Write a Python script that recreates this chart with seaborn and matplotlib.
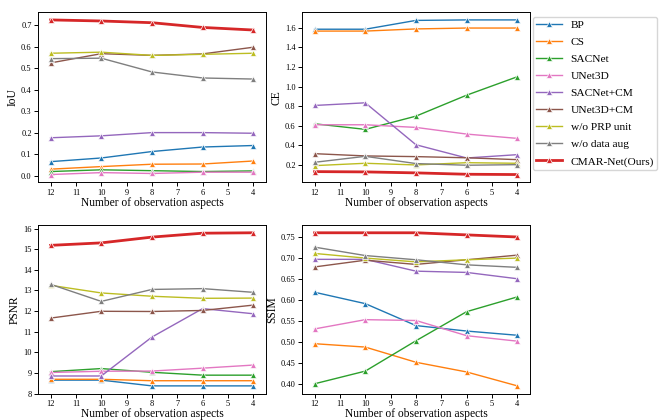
import numpy as np
import pandas as pd
import seaborn as sns
import matplotlib

matplotlib.use("Agg")
import matplotlib.pyplot as plt

plt.rcParams["font.family"] = ["Liberation Serif", "DejaVu Serif"]

ASPECTS = [12, 10, 8, 6, 4]
METHODS = [
    "BP",
    "CS",
    "SACNet",
    "UNet3D",
    "SACNet+CM",
    "UNet3D+CM",
    "w/o PRP unit",
    "w/o data aug",
    "CMAR-Net(Ours)",
]
COLORS = sns.color_palette("tab10", 10)
METHOD_COLORS = [COLORS[0], COLORS[1], COLORS[2], COLORS[6], COLORS[4],
                 COLORS[5], COLORS[8], COLORS[7], COLORS[3]]

iou = {
    "BP": [0.066, 0.083, 0.113, 0.134, 0.141],
    "CS": [0.031, 0.043, 0.054, 0.055, 0.069],
    "SACNet": [0.020, 0.028, 0.024, 0.020, 0.023],
    "UNet3D": [0.006, 0.015, 0.011, 0.017, 0.017],
    "SACNet+CM": [0.177, 0.186, 0.201, 0.201, 0.198],
    "UNet3D+CM": [0.525, 0.568, 0.560, 0.567, 0.598],
    "w/o PRP unit": [0.570, 0.575, 0.560, 0.565, 0.570],
    "w/o data aug": [0.545, 0.547, 0.483, 0.455, 0.450],
    "CMAR-Net(Ours)": [0.725, 0.720, 0.712, 0.690, 0.678],
}
ce = {
    "BP": [1.585, 1.585, 1.675, 1.68, 1.68],
    "CS": [1.566, 1.566, 1.588, 1.597, 1.597],
    "SACNet": [0.62, 0.563, 0.698, 0.912, 1.10],
    "UNet3D": [0.61, 0.61, 0.583, 0.515, 0.471],
    "SACNet+CM": [0.807, 0.834, 0.406, 0.271, 0.305],
    "UNet3D+CM": [0.315, 0.292, 0.285, 0.273, 0.254],
    "w/o PRP unit": [0.193, 0.217, 0.20, 0.223, 0.217],
    "w/o data aug": [0.227, 0.288, 0.214, 0.197, 0.203],
    "CMAR-Net(Ours)": [0.132, 0.129, 0.119, 0.105, 0.102],
}
psnr = {
    "BP": [8.65, 8.65, 8.37, 8.37, 8.37],
    "CS": [8.69, 8.69, 8.62, 8.62, 8.62],
    "SACNet": [9.06, 9.21, 9.03, 8.89, 8.89],
    "UNet3D": [9.02, 9.08, 9.09, 9.23, 9.38],
    "SACNet+CM": [8.85, 8.85, 10.74, 12.12, 11.87],
    "UNet3D+CM": [11.66, 11.99, 11.98, 12.03, 12.29],
    "w/o PRP unit": [13.25, 12.88, 12.72, 12.62, 12.63],
    "w/o data aug": [13.30, 12.47, 13.05, 13.09, 12.91],
    "CMAR-Net(Ours)": [15.19, 15.31, 15.59, 15.78, 15.80],
}
ssim = {
    "BP": [0.618, 0.591, 0.539, 0.526, 0.516],
    "CS": [0.496, 0.488, 0.452, 0.429, 0.396],
    "SACNet": [0.401, 0.431, 0.503, 0.572, 0.607],
    "UNet3D": [0.531, 0.553, 0.551, 0.515, 0.502],
    "SACNet+CM": [0.696, 0.696, 0.668, 0.665, 0.650],
    "UNet3D+CM": [0.678, 0.694, 0.684, 0.695, 0.706],
    "w/o PRP unit": [0.710, 0.699, 0.690, 0.695, 0.699],
    "w/o data aug": [0.725, 0.705, 0.695, 0.683, 0.677],
    "CMAR-Net(Ours)": [0.759, 0.759, 0.759, 0.754, 0.749],
}

PANELS = [("IoU", iou), ("CE", ce), ("PSNR", psnr), ("SSIM", ssim)]
AX_RECTS = [
    [0.057, 0.566, 0.343, 0.405],
    [0.454, 0.566, 0.343, 0.405],
    [0.057, 0.063, 0.343, 0.401],
    [0.454, 0.063, 0.343, 0.401],
]

fig = plt.figure(figsize=(6.65, 4.2), dpi=100)

for (name, table), rect in zip(PANELS, AX_RECTS):
    ax = fig.add_axes(rect)
    df = pd.DataFrame(
        [(m, a, v) for m in METHODS for a, v in zip(ASPECTS, table[m])],
        columns=["method", "aspects", "value"],
    )
    for m, c in zip(METHODS, METHOD_COLORS):
        ours = m.startswith("CMAR")
        sns.lineplot(
            data=df[df.method == m],
            x="aspects",
            y="value",
            ax=ax,
            color=c,
            marker="^",
            markersize=4.5 if ours else 4,
            markeredgewidth=0.5,
            linewidth=2.0 if ours else 1.0,
            label=m,
            legend=False,
        )
    ax.set_xlim(12.5, 3.5)
    ax.set_xticks(range(12, 3, -1))
    ax.tick_params(labelsize=6, length=3, width=0.7, pad=1.5)
    for sp in ax.spines.values():
        sp.set_linewidth(0.7)
    ax.set_xlabel("Number of observation aspects", fontsize=8.3, labelpad=0)
    ax.set_ylabel(name, fontsize=8.3, labelpad=2)

handles, labels = fig.axes[0].get_legend_handles_labels()
fig.legend(
    handles,
    labels,
    loc="upper left",
    bbox_to_anchor=(0.793, 0.974),
    fontsize=8.2,
    labelspacing=0.62,
    borderpad=0.3,
    handlelength=2.2,
    frameon=True,
)

fig.savefig("out.png", dpi=100)
